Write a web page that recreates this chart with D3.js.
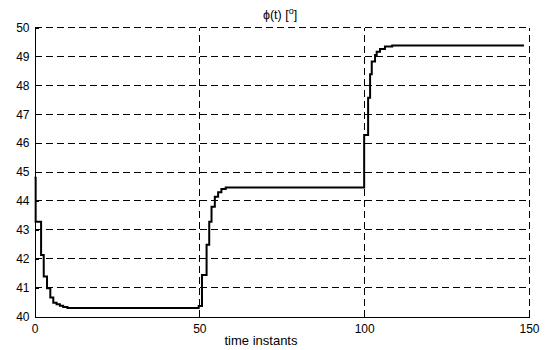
<!DOCTYPE html>
<html>
<head>
<meta charset="utf-8">
<script src="https://cdn.jsdelivr.net/npm/d3@7"></script>
<style>
  body { margin: 0; background: #fff; }
  svg { font-family: "Liberation Sans", Arial, sans-serif; }
  .axis text { font-size: 12px; fill: #000; }
  .axis path, .axis line { stroke: #000; shape-rendering: crispEdges; }
  .grid line { stroke: #000; stroke-dasharray: 7,4; shape-rendering: crispEdges; }
</style>
</head>
<body>
<div id="container"></div>
<script>
// time instants at which phi changes (stairs plot)
var tSteps = [0, 0.35, 2.0, 2.8, 3.8, 4.8, 5.7, 6.7, 7.7, 8.7, 10,
              49.8, 50.8, 52.2, 53.0, 53.7, 54.7, 55.7, 56.7, 58,
              100, 101.2, 101.8, 102.3, 103.3, 103.8, 104.8, 106.3, 108.5, 148.5];
var phiSteps = [44.8, 43.28, 42.13, 41.38, 40.98, 40.66, 40.48, 40.42, 40.37, 40.33, 40.29,
                40.36, 41.44, 42.48, 43.28, 43.8, 44.14, 44.3, 44.41, 44.46,
                46.28, 47.57, 48.38, 48.82, 49.05, 49.16, 49.26, 49.34, 49.38, 49.38];
var xTicks = [0, 50, 100, 150];
var yTicks = [40, 41, 42, 43, 44, 45, 46, 47, 48, 49, 50];
var title = "ϕ(t) [";
var xLabel = "time instants";

var width = 557, height = 350;

var x = d3.scaleLinear().domain([0, 150]).range([34.5, 529]);
var y = d3.scaleLinear().domain([40, 50]).range([316.5, 27.5]);

var svg = d3.select("#container").append("svg")
    .attr("width", width)
    .attr("height", height);

var data = tSteps.map(function(t, i) { return {t: t, v: phiSteps[i]}; });

// grid (dashed), skip the left/bottom axes lines
svg.append("g").attr("class", "grid")
    .selectAll(".hg")
    .data(yTicks.filter(function(d) { return d > 40; }))
    .enter().append("line")
    .attr("x1", x(0)).attr("x2", x(150))
    .attr("y1", function(d) { return y(d); })
    .attr("y2", function(d) { return y(d); });

svg.append("g").attr("class", "grid")
    .selectAll(".vg")
    .data(xTicks.filter(function(d) { return d > 0; }))
    .enter().append("line")
    .attr("y1", y(40)).attr("y2", y(50))
    .attr("x1", function(d) { return x(d); })
    .attr("x2", function(d) { return x(d); });

var xAxis = d3.axisBottom(x).tickValues(xTicks).tickSizeInner(-4).tickSizeOuter(0).tickPadding(8);
var yAxis = d3.axisLeft(y).tickValues(yTicks).tickSizeInner(-4).tickSizeOuter(0).tickPadding(5);

svg.append("g")
    .attr("class", "axis")
    .attr("transform", "translate(0," + y(40) + ")")
    .call(xAxis);

svg.append("g")
    .attr("class", "axis")
    .attr("transform", "translate(" + x(0) + ",0)")
    .call(yAxis);

var stairs = d3.line()
    .x(function(d) { return x(d.t); })
    .y(function(d) { return y(d.v); })
    .curve(d3.curveStepAfter);

svg.append("path")
    .datum(data)
    .attr("fill", "none")
    .attr("stroke", "#000")
    .attr("stroke-width", 2)
    .attr("d", stairs);

var tt = svg.append("text")
    .attr("x", 280).attr("y", 19)
    .attr("text-anchor", "middle")
    .style("font-size", "12.5px");
tt.append("tspan").text(title);
tt.append("tspan").attr("dy", -5).style("font-size", "9px").text("o");
tt.append("tspan").attr("dy", 5).text("]");

svg.append("text")
    .attr("x", 261).attr("y", 345)
    .attr("text-anchor", "middle")
    .style("font-size", "13px")
    .text(xLabel);
</script>
</body>
</html>
